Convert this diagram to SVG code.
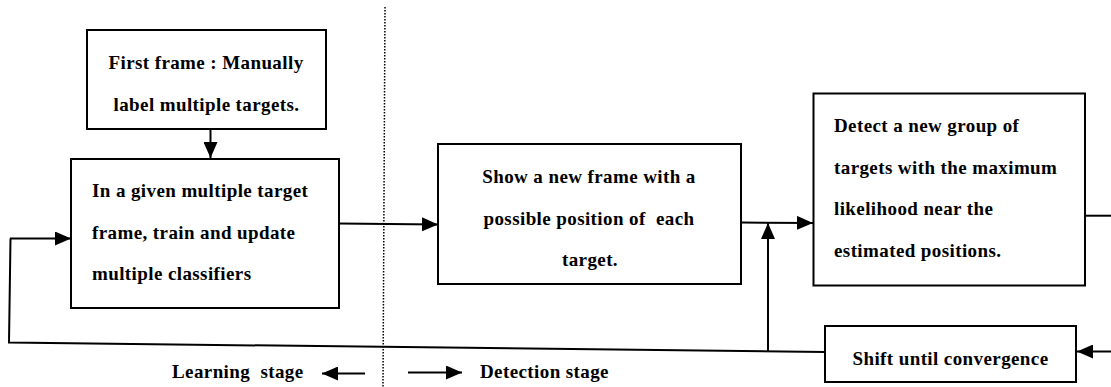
<svg xmlns="http://www.w3.org/2000/svg" width="1111" height="387" viewBox="0 0 1111 387">
<style>
.box{fill:#fff;stroke:#000;stroke-width:2}
.ln{fill:none;stroke:#000;stroke-width:2}
.t{font-family:"Liberation Serif","Times New Roman",serif;font-weight:bold;font-size:19px;letter-spacing:0.4px;fill:#000;white-space:pre}
.c{text-anchor:middle}
</style>
<defs>
<marker id="ah" viewBox="0 0 16 14" refX="16" refY="7" markerWidth="16" markerHeight="14" markerUnits="userSpaceOnUse" orient="auto">
<path d="M0,0 L16,7 L0,14 Z" fill="#000"/>
</marker>
</defs>
<line x1="385" y1="7" x2="383" y2="387" stroke="#000" stroke-width="1.5" stroke-dasharray="1.5,1.5"/>
<g id="connectors">
<line class="ln" x1="210.5" y1="129" x2="210.5" y2="158" marker-end="url(#ah)"/>
<line class="ln" x1="339" y1="223.5" x2="438" y2="224.5" marker-end="url(#ah)"/>
<line class="ln" x1="741" y1="222.5" x2="813" y2="223" marker-end="url(#ah)"/>
<line class="ln" x1="768" y1="352" x2="768" y2="223" marker-end="url(#ah)"/>
<polyline class="ln" points="825,352 9,342.5 10.5,238.5"/>
<line class="ln" x1="10" y1="238.5" x2="71" y2="238.5" marker-end="url(#ah)"/>
<line class="ln" x1="1085" y1="215.7" x2="1111" y2="215.7"/>
<line class="ln" x1="1111" y1="351.5" x2="1077" y2="351.5" marker-end="url(#ah)"/>
<line class="ln" x1="365" y1="373.5" x2="322" y2="373.5" marker-end="url(#ah)"/>
<line class="ln" x1="408" y1="372.5" x2="462" y2="372.5" marker-end="url(#ah)"/>
</g>
<g id="n1">
<rect class="box" x="87" y="30" width="239" height="99"/>
<text class="t c" x="206" y="69">First frame : Manually</text>
<text class="t c" x="206.5" y="111">label multiple targets.</text>
</g>
<g id="n2">
<rect class="box" x="71" y="159" width="268" height="149"/>
<text class="t" x="92" y="197">In a given multiple target</text>
<text class="t" x="92" y="239">frame, train and update</text>
<text class="t" x="92" y="280">multiple classifiers</text>
</g>
<g id="n3">
<rect class="box" x="438" y="144" width="303" height="140"/>
<text class="t c" x="589" y="183">Show a new frame with a</text>
<text class="t c" x="589" y="225">possible position of  each</text>
<text class="t c" x="590" y="266">target.</text>
</g>
<g id="n4">
<rect class="box" x="813.5" y="93.5" width="271.5" height="192"/>
<text class="t" x="834" y="132">Detect a new group of</text>
<text class="t" x="834" y="173.5">targets with the maximum</text>
<text class="t" x="834" y="215">likelihood near the</text>
<text class="t" x="834" y="257">estimated positions.</text>
</g>
<g id="n5">
<rect class="box" x="825" y="326" width="251" height="56"/>
<text class="t c" x="950.5" y="365">Shift until convergence</text>
</g>
<g id="labels">
<text class="t" x="172" y="378">Learning  stage</text>
<text class="t" x="480" y="378">Detection stage</text>
</g>
</svg>
